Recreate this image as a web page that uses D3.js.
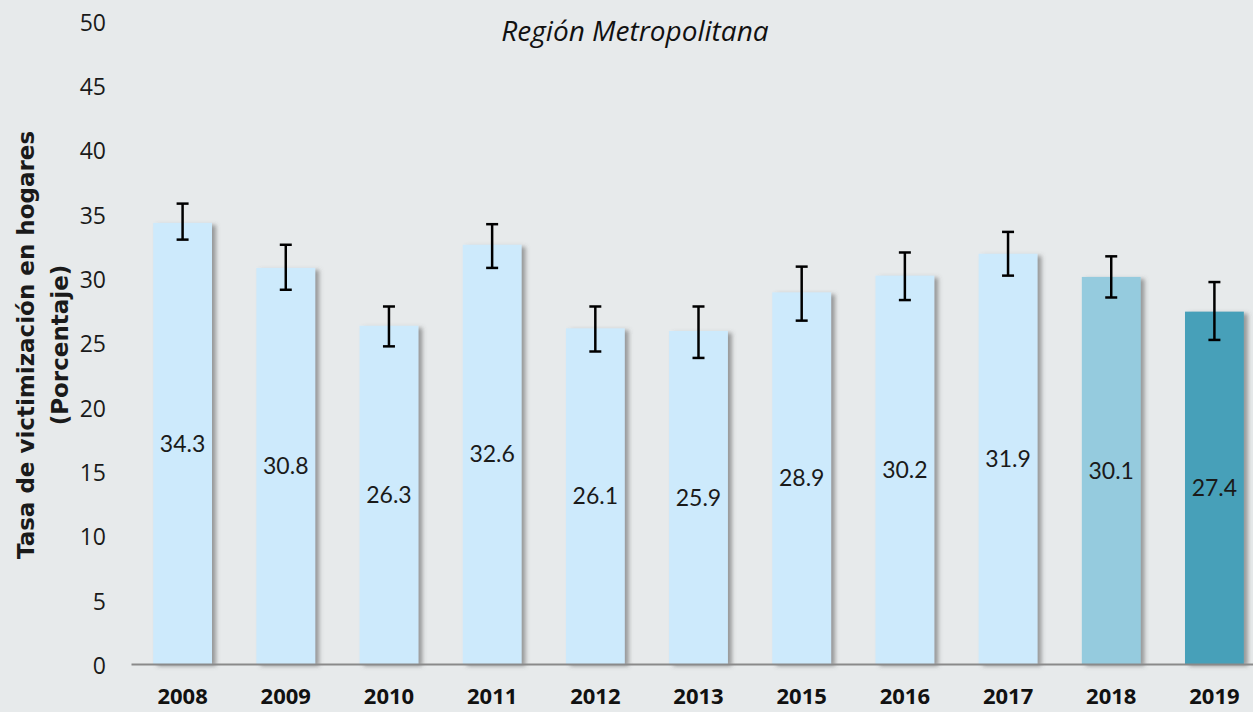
<!DOCTYPE html>
<html>
<head>
<meta charset="utf-8">
<script src="https://cdn.jsdelivr.net/npm/d3@7"></script>
<style>
  body { margin: 0; background: #e7eaeb; }
  svg { display: block; }
</style>
</head>
<body>
<script>
// Chart data
var years = ["2008", "2009", "2010", "2011", "2012", "2013", "2015", "2016", "2017", "2018", "2019"];
var rates = [34.3, 30.8, 26.3, 32.6, 26.1, 25.9, 28.9, 30.2, 31.9, 30.1, 27.4];
var upperCI = [35.8, 32.6, 27.8, 34.2, 27.8, 27.8, 30.9, 32.0, 33.6, 31.7, 29.7];
var lowerCI = [33.0, 29.1, 24.7, 30.8, 24.3, 23.8, 26.7, 28.3, 30.2, 28.5, 25.2];
var barColors = ["#cdeafc", "#cdeafc", "#cdeafc", "#cdeafc", "#cdeafc", "#cdeafc", "#cdeafc", "#cdeafc", "#cdeafc", "#95cbde", "#46a0b9"];
var yTicks = [0, 5, 10, 15, 20, 25, 30, 35, 40, 45, 50];

var svgWidth = 1253;
var svgHeight = 712;

var rows = years.map(function(y, i) {
  return { year: y, rate: rates[i], hi: upperCI[i], lo: lowerCI[i], color: barColors[i] };
});

var svg = d3.select("body")
  .append("svg")
  .attr("width", svgWidth)
  .attr("height", svgHeight);

svg.append("rect")
  .attr("width", svgWidth)
  .attr("height", svgHeight)
  .attr("fill", "#e7eaeb");

// soft shadow on the right of each bar
var defs = svg.append("defs");
var shadow = defs.append("filter")
  .attr("id", "barShadow")
  .attr("x", "-10%").attr("y", "-10%")
  .attr("width", "140%").attr("height", "130%");
shadow.append("feDropShadow")
  .attr("dx", 4)
  .attr("dy", 2)
  .attr("stdDeviation", 2)
  .attr("flood-color", "#555")
  .attr("flood-opacity", 0.55);

var xScale = d3.scaleBand()
  .domain(years)
  .range([131, 1266])
  .paddingInner(0.43)
  .paddingOuter(0.215);

var yScale = d3.scaleLinear()
  .domain([0, 50])
  .range([664, 21]);

// y tick labels (no axis line)
var leftAxis = d3.axisLeft(yScale).tickValues(yTicks).tickSize(0).tickPadding(0);
var yAxisG = svg.append("g")
  .attr("transform", "translate(106, 2)")
  .call(leftAxis);
yAxisG.select(".domain").remove();
yAxisG.selectAll("text")
  .attr("font-family", "Open Sans, sans-serif")
  .attr("font-size", 23)
  .attr("fill", "#1a1a1a");

// bars
svg.append("g")
  .selectAll("rect")
  .data(rows)
  .enter()
  .append("rect")
  .attr("x", d => xScale(d.year))
  .attr("y", d => yScale(d.rate))
  .attr("width", xScale.bandwidth())
  .attr("height", d => yScale(0) - yScale(d.rate))
  .attr("fill", d => d.color)
  .attr("filter", "url(#barShadow)");

// baseline
var bottomAxis = d3.axisBottom(xScale).tickSize(0).tickPadding(24);
var xAxisG = svg.append("g")
  .attr("transform", "translate(0, " + yScale(0) + ")")
  .call(bottomAxis);
xAxisG.select(".domain")
  .attr("stroke", "#8a8a8a")
  .attr("stroke-width", 2);
xAxisG.selectAll("text")
  .attr("font-family", "Open Sans, sans-serif")
  .attr("font-weight", "bold")
  .attr("font-size", 22)
  .attr("fill", "#111");

// error bars
var errG = svg.append("g")
  .attr("stroke", "#000")
  .attr("stroke-width", 2.5);
var cx = d => xScale(d.year) + xScale.bandwidth() / 2;
errG.selectAll(".whisker")
  .data(rows)
  .enter()
  .append("line")
  .attr("x1", cx).attr("x2", cx)
  .attr("y1", d => yScale(d.hi))
  .attr("y2", d => yScale(d.lo));
errG.selectAll(".capTop")
  .data(rows)
  .enter()
  .append("line")
  .attr("x1", d => cx(d) - 6).attr("x2", d => cx(d) + 6)
  .attr("y1", d => yScale(d.hi)).attr("y2", d => yScale(d.hi));
errG.selectAll(".capBot")
  .data(rows)
  .enter()
  .append("line")
  .attr("x1", d => cx(d) - 6).attr("x2", d => cx(d) + 6)
  .attr("y1", d => yScale(d.lo)).attr("y2", d => yScale(d.lo));

// value labels in the middle of each bar
svg.append("g")
  .selectAll("text")
  .data(rows)
  .enter()
  .append("text")
  .attr("x", cx)
  .attr("y", d => (yScale(d.rate) + yScale(0)) / 2)
  .attr("dy", "0.35em")
  .attr("text-anchor", "middle")
  .attr("font-family", "Lato, sans-serif")
  .attr("font-size", 23)
  .attr("fill", "#1a1a1a")
  .text(d => d3.format(".1f")(d.rate));

// title
svg.append("text")
  .attr("x", 635)
  .attr("y", 41)
  .attr("text-anchor", "middle")
  .attr("font-family", "Open Sans, sans-serif")
  .attr("font-style", "italic")
  .attr("font-size", 28)
  .attr("fill", "#111")
  .text("Región Metropolitana");

// y axis title
var yTitle = svg.append("text")
  .attr("transform", "translate(26, 345) rotate(-90)")
  .attr("text-anchor", "middle")
  .attr("font-family", "DejaVu Sans, sans-serif")
  .attr("font-weight", "bold")
  .attr("font-size", 23)
  .attr("fill", "#1a1a1a");
yTitle.append("tspan")
  .attr("x", 0).attr("dy", "0.35em")
  .text("Tasa de victimización en hogares");
yTitle.append("tspan")
  .attr("x", 0).attr("dy", 34)
  .text("(Porcentaje)");
</script>
</body>
</html>
